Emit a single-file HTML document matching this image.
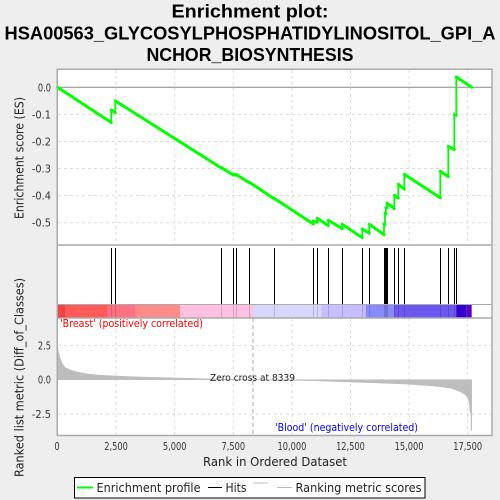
<!DOCTYPE html>
<html>
<head>
<meta charset="utf-8">
<title>Enrichment plot</title>
<style>
html,body{margin:0;padding:0;background:#eeeeee;}
svg{display:block;}
text{font-family:"DejaVu Sans","Liberation Sans",sans-serif;fill:#222;}
.title{font-family:"Liberation Sans",sans-serif;font-weight:bold;font-size:18px;fill:#000;}
.tick{font-size:11px;fill:#333;}
.axis{font-size:12.5px;fill:#222;}
</style>
</head>
<body>
<svg id="chart" xmlns="http://www.w3.org/2000/svg" width="500" height="500" viewBox="0 0 500 500">
  <rect x="0" y="0" width="500" height="500" fill="#eeeeee"/>
  <g>
    <text class="title" x="250" y="17.5" text-anchor="middle" textLength="157" lengthAdjust="spacingAndGlyphs">Enrichment plot:</text>
    <text class="title" x="250" y="39.5" text-anchor="middle" textLength="491" lengthAdjust="spacingAndGlyphs">HSA00563_GLYCOSYLPHOSPHATIDYLINOSITOL_GPI_A</text>
    <text class="title" x="250" y="61" text-anchor="middle" textLength="207" lengthAdjust="spacingAndGlyphs">NCHOR_BIOSYNTHESIS</text>
  </g>
  <rect x="57.5" y="69.5" width="434.5" height="175.5" fill="#fff"/>
  <rect x="57.5" y="245" width="434.5" height="73" fill="#fff"/>
  <rect x="57.5" y="318" width="434.5" height="117.5" fill="#fff"/>
  <g id="grid"></g>
  <g id="metric"></g>
  <g id="bands"></g>
  <g id="hits"></g>
  <g id="es"></g>
  <g id="frame" fill="none" stroke="#aaaaaa" stroke-width="1.5">
    <rect x="57.25" y="69.25" width="434.75" height="366.25"/>
    <line x1="57" y1="245" x2="492" y2="245"/>
    <line x1="57" y1="318" x2="492" y2="318"/>
    <line x1="57" y1="304.5" x2="492" y2="304.5" stroke-width="1"/>
  </g>
  <g id="labels"></g>
  <text class="axis" transform="translate(23.5 158) rotate(-90)" text-anchor="middle" textLength="122" lengthAdjust="spacingAndGlyphs">Enrichment score (ES)</text>
  <text class="axis" transform="translate(23.5 377.5) rotate(-90)" text-anchor="middle" textLength="199" lengthAdjust="spacingAndGlyphs">Ranked list metric (Diff_of_Classes)</text>
  <text class="axis" x="275" y="466" text-anchor="middle" textLength="144" lengthAdjust="spacingAndGlyphs">Rank in Ordered Dataset</text>
  <text x="60" y="327" font-size="10.5" textLength="143" lengthAdjust="spacingAndGlyphs" style="fill:#ff0000">'Breast' (positively correlated)</text>
  <text x="275" y="431" font-size="10.5" textLength="143" lengthAdjust="spacingAndGlyphs" style="fill:#0000ff">'Blood' (negatively correlated)</text>
  <text id="zero-label" x="210" y="381" font-size="9.5" textLength="85" lengthAdjust="spacingAndGlyphs" style="fill:#222">Zero cross at 8339</text>
  <g>
    <rect x="74.5" y="477.5" width="350.5" height="20.5" fill="#fff" stroke="#000" stroke-width="1"/>
    <line x1="77" y1="487.5" x2="93" y2="487.5" stroke="#00ff00" stroke-width="2"/>
    <text x="96.5" y="492" font-size="12" textLength="104" lengthAdjust="spacingAndGlyphs">Enrichment profile</text>
    <line x1="208" y1="487.5" x2="222" y2="487.5" stroke="#000" stroke-width="1"/>
    <text x="225.5" y="492" font-size="12" textLength="21" lengthAdjust="spacingAndGlyphs">Hits</text>
    <line x1="253" y1="483" x2="268" y2="483" stroke="#bbbbbb" stroke-width="1"/>
    <line x1="277" y1="487.5" x2="292" y2="487.5" stroke="#bbbbbb" stroke-width="1"/>
    <text x="295.5" y="492" font-size="12" textLength="126" lengthAdjust="spacingAndGlyphs">Ranking metric scores</text>
  </g>
</svg>
<script>
const xTicks = [0, 2500, 5000, 7500, 10000, 12500, 15000, 17500];
const esTicks = [0, -0.1, -0.2, -0.3, -0.4, -0.5];
const metricTicks = [2.5, 0, -2.5];
const zeroCross = 8339;
const hitRanks = [2295, 2466, 6988, 7500, 7628, 8157, 9249, 10913, 11084, 11553, 12150, 13003, 13302, 13930, 13970, 14010, 14057, 14369, 14539, 14795, 16331, 16672, 16928, 17013];
const esBefore = [-0.130, -0.094, -0.298, -0.324, -0.325, -0.351, -0.412, -0.505, -0.498, -0.511, -0.522, -0.555, -0.539, -0.544, -0.507, -0.467, -0.445, -0.448, -0.409, -0.376, -0.408, -0.330, -0.230, -0.103];
const esAfter = [-0.084, -0.050, -0.296, -0.320, -0.322, -0.349, -0.410, -0.494, -0.484, -0.491, -0.506, -0.523, -0.506, -0.505, -0.465, -0.445, -0.428, -0.399, -0.358, -0.321, -0.310, -0.218, -0.101, 0.038];
const esStart = 0;
const esEnd = 0;
const lastRank = 17670;
const metricRanks = [0, 20, 60, 100, 200, 320, 500, 700, 960, 1300, 1800, 2500, 3500, 5000, 6500, 7500, 8339, 10000, 11000, 12500, 14000, 15000, 15890, 16750, 17170, 17400, 17510, 17570, 17600, 17640, 17642, 17670];
const metricValues = [2.5, 2.2, 1.9, 1.6, 1.2, 0.9, 0.75, 0.62, 0.53, 0.42, 0.33, 0.27, 0.2, 0.13, 0.06, 0.02, 0, -0.04, -0.08, -0.17, -0.26, -0.33, -0.44, -0.6, -0.87, -1.1, -1.33, -1.7, -2.4, -2.45, -3.7, -3.7];
const bandEnds = [320, 2150, 3330, 5240, 8339, 11250, 13150, 14350, 17020, 17460, 17670];
const bandColors = ["#f24444", "#ff5959", "#ff7083", "#ff8a8a", "#ffc0e2", "#d6d6ff", "#c6beff", "#8a8aff", "#6c58ee", "#3000d2", "#6000c0"];

const NS = "http://www.w3.org/2000/svg";
const xScale = r => 57.5 + r * 0.02344;
const esScale = v => 87.3 - v * 270.8;
const metricScale = v => 379.7 - v * 13.72;
const make = (parent, tag, attrs) => {
  const el = document.createElementNS(NS, tag);
  for (const k in attrs) el.setAttribute(k, attrs[k]);
  parent.appendChild(el);
  return el;
};
const labelWidth = s => {
  let w = 0;
  for (const c of s) w += (c === "," || c === ".") ? 2.6 : (c === "-" ? 6 : 5.25);
  return w;
};
const gridG = document.getElementById("grid");
const labelG = document.getElementById("labels");
const dash = {stroke: "#dddddd", "stroke-width": 1, "stroke-dasharray": "3 3"};

xTicks.forEach(t => {
  const x = xScale(t);
  if (t > 0) {
    const a = make(gridG, "line", Object.assign({x1: x, x2: x, y1: 70, y2: 245}, dash));
    
    
    const b = make(gridG, "line", Object.assign({x1: x, x2: x, y1: 318, y2: 435}, dash));
    
    
  }
  const s = t.toLocaleString("en-US");
  const label = make(labelG, "text", {x: t === 0 ? x - 0.5 : x, y: 450, "text-anchor": "middle", class: "tick", textLength: labelWidth(s), lengthAdjust: "spacingAndGlyphs"});
  label.textContent = s;
  
  
});
esTicks.forEach(v => {
  const y = esScale(v);
  if (v !== 0) {
    const g = make(gridG, "line", Object.assign({x1: 58, x2: 492, y1: y, y2: y}, dash));
    
    
  }
  const s = (v < 0 ? "-" : "") + Math.abs(v).toFixed(1);
  const label = make(labelG, "text", {x: 51, y: y + 4, "text-anchor": "end", class: "tick", textLength: labelWidth(s), lengthAdjust: "spacingAndGlyphs"});
  label.textContent = s;
  
  
});
const zeroLine = make(gridG, "line", {x1: 58, x2: 492, y1: esScale(0), y2: esScale(0), stroke: "#888888", "stroke-width": 1});


metricTicks.forEach(v => {
  const y = metricScale(v);
  if (v !== 0) {
    const g = make(gridG, "line", Object.assign({x1: 58, x2: 492, y1: y, y2: y}, dash));
    
    
  }
  const s = (v < 0 ? "-" : "") + Math.abs(v).toFixed(1);
  const label = make(labelG, "text", {x: 51, y: y + 4, "text-anchor": "end", class: "tick", textLength: labelWidth(s), lengthAdjust: "spacingAndGlyphs"});
  label.textContent = s;
  
  
});
const zeroCrossLine = make(gridG, "line", {x1: xScale(zeroCross), x2: xScale(zeroCross), y1: 318, y2: 435, stroke: "#aaaaaa", "stroke-width": 1, "stroke-dasharray": "4 3"});



let metricPts = [xScale(metricRanks[0]) + "," + metricScale(0)];
metricRanks.forEach((r, i) => metricPts.push(xScale(r) + "," + metricScale(metricValues[i])));
metricPts.push(xScale(metricRanks[metricRanks.length - 1]) + "," + metricScale(0));
const metricArea = make(document.getElementById("metric"), "polygon", {points: metricPts.join(" "), fill: "#bdbdbd", stroke: "#bdbdbd", "stroke-width": 0.5});



let bandStart = 0;
bandEnds.forEach((end, i) => {
  const band = make(document.getElementById("bands"), "rect", {x: xScale(bandStart), y: 305, width: xScale(end) - xScale(bandStart), height: 13, fill: bandColors[i]});
  
  
  bandStart = end;
});

hitRanks.forEach(r => {
  const x = Math.round(xScale(r)) + 0.5;
  const hit = make(document.getElementById("hits"), "line", {x1: x, x2: x, y1: 248, y2: 304.5, stroke: "#000", "stroke-width": 1});
  
  
  const shade = make(document.getElementById("hits"), "line", {x1: x, x2: x, y1: 305, y2: 318, stroke: "#000", "stroke-opacity": 0.15, "stroke-width": 1});
  
  
});

const esG = document.getElementById("es");
let prevRank = 0;
let prevES = esStart;
hitRanks.forEach((r, i) => {
  const fall = make(esG, "line", {x1: xScale(prevRank), y1: esScale(prevES), x2: xScale(r), y2: esScale(esBefore[i]), stroke: "#00ff00", "stroke-width": 3, "stroke-linecap": "round"});
  
  
  const jump = make(esG, "line", {x1: xScale(r), y1: esScale(esBefore[i]), x2: xScale(r), y2: esScale(esAfter[i]), stroke: "#00ff00", "stroke-width": 1.8});
  
  
  prevRank = r;
  prevES = esAfter[i];
});
const tail = make(esG, "line", {x1: xScale(prevRank), y1: esScale(prevES), x2: xScale(lastRank), y2: esScale(esEnd), stroke: "#00ff00", "stroke-width": 3, "stroke-linecap": "round"});


</script>
</body>
</html>
